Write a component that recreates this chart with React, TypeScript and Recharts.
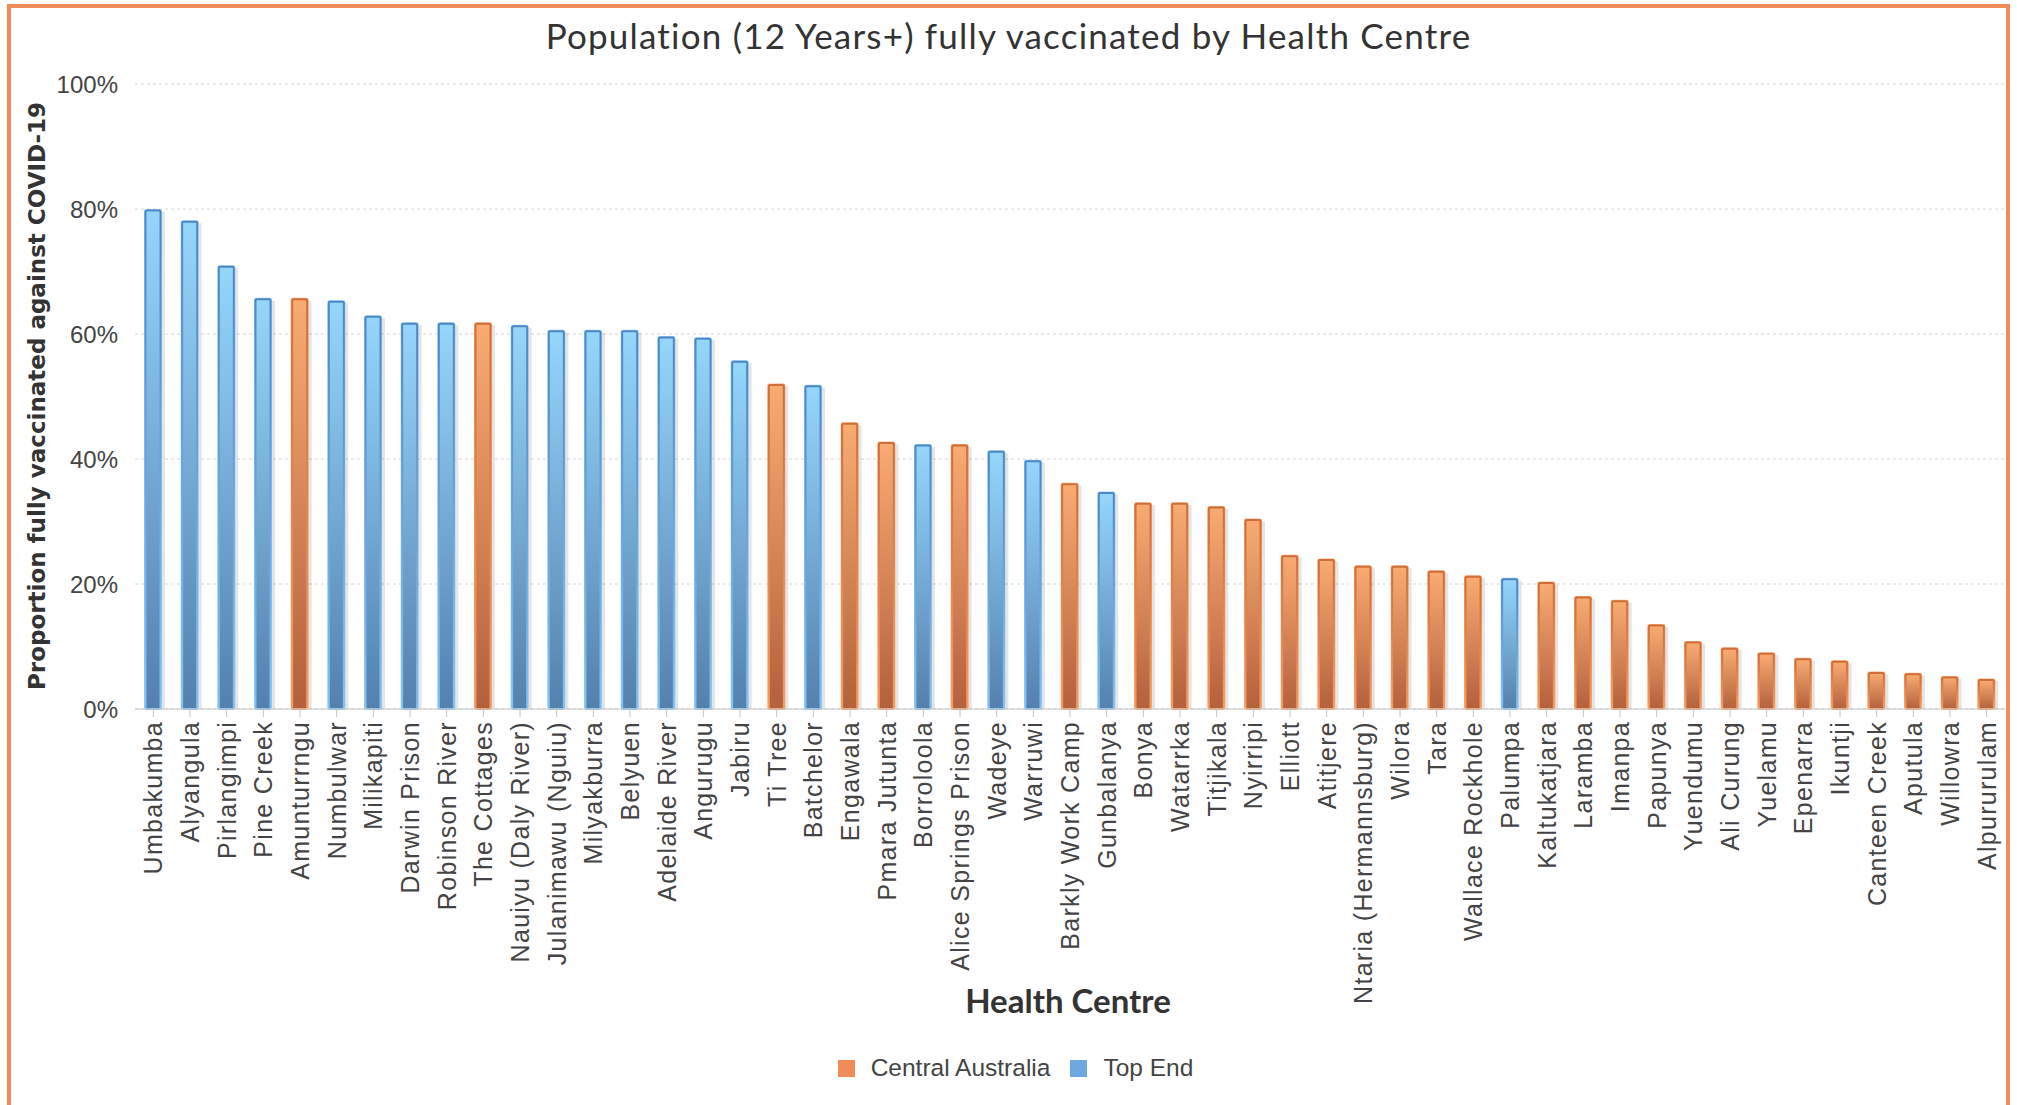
import React from 'react';
import { BarChart, Bar, XAxis, YAxis, CartesianGrid, Legend, Label } from 'recharts';

// health centres, sorted by coverage (as in the source chart)
const centres = [
  'Umbakumba', 'Alyangula', 'Pirlangimpi', 'Pine Creek', 'Amunturrngu', 'Numbulwar', 'Milikapiti',
  'Darwin Prison', 'Robinson River', 'The Cottages', 'Nauiyu (Daly River)', 'Julanimawu (Nguiu)',
  'Milyakburra', 'Belyuen', 'Adelaide River', 'Angurugu', 'Jabiru', 'Ti Tree', 'Batchelor', 'Engawala',
  'Pmara Jutunta', 'Borroloola', 'Alice Springs Prison', 'Wadeye', 'Warruwi', 'Barkly Work Camp',
  'Gunbalanya', 'Bonya', 'Watarrka', 'Titjikala', 'Nyirripi', 'Elliott', 'Atitjere',
  'Ntaria (Hermannsburg)', 'Wilora', 'Tara', 'Wallace Rockhole', 'Palumpa', 'Kaltukatjara', 'Laramba',
  'Imanpa', 'Papunya', 'Yuendumu', 'Ali Curung', 'Yuelamu', 'Epenarra', 'Ikuntji', 'Canteen Creek',
  'Aputula', 'Willowra', 'Alpururulam',
];

// % of population 12+ fully vaccinated
const coverage = [
  80.0, 78.2, 71.0, 65.8, 65.8, 65.4, 63.0, 61.9, 61.9, 61.9, 61.5, 60.7, 60.7, 60.7, 59.7, 59.5, 55.8,
  52.1, 51.9, 45.9, 42.8, 42.4, 42.4, 41.4, 39.9, 36.2, 34.8, 33.1, 33.1, 32.5, 30.5, 24.7, 24.1, 23.0,
  23.0, 22.2, 21.4, 21.0, 20.4, 18.1, 17.5, 13.6, 10.9, 9.9, 9.1, 8.2, 7.8, 6.0, 5.8, 5.3, 4.9,
];

// C = Central Australia, T = Top End
const regionCodes = [
  'T', 'T', 'T', 'T', 'C', 'T', 'T', 'T', 'T', 'C', 'T', 'T', 'T', 'T', 'T', 'T', 'T', 'C', 'T', 'C',
  'C', 'T', 'C', 'T', 'T', 'C', 'T', 'C', 'C', 'C', 'C', 'C', 'C', 'C', 'C', 'C', 'C', 'T', 'C', 'C',
  'C', 'C', 'C', 'C', 'C', 'C', 'C', 'C', 'C', 'C', 'C',
];

const yTicks = [0, 20, 40, 60, 80, 100];

const legendItems = [
  { label: 'Central Australia', color: '#ef8c5a' },
  { label: 'Top End', color: '#6fa8e0' },
];

const data = centres.map((name, i) => ({ name, value: coverage[i], region: regionCodes[i] }));

const TICK_FONT = '"Liberation Sans", Arial, sans-serif';

// bar with gradient fill, inverse gradient border and a soft shadow
const BarShape = (props: any) => {
  const { x, y, width, height, payload } = props;
  if (!height || height <= 0) return null;
  const c = payload.region === 'C';
  const fill = c ? 'url(#fillOrange)' : 'url(#fillBlue)';
  const stroke = c ? 'url(#strokeOrange)' : 'url(#strokeBlue)';
  return (
    <g>
      <rect x={x + 3} y={y + 3} width={width} height={height - 3} fill="#000" opacity={0.1} />
      <rect x={x} y={y} width={width} height={height} rx={2} fill={c ? '#f7a66f' : '#8ccdf6'} opacity={0.9} />
      <rect x={x + 1.5} y={y + 1.5} width={width - 3} height={height - 1.5} rx={1.5} fill={fill} stroke={stroke} strokeWidth={2} />
    </g>
  );
};

const XTick = ({ x, y, payload }: any) => (
  <g transform={`translate(${x},${y})`}>
    <text
      transform="rotate(-90)"
      x={0}
      y={0}
      dy="0.36em"
      textAnchor="end"
      fill="#444"
      fontSize={25}
      letterSpacing={1.3}
      fontFamily={TICK_FONT}
    >
      {payload.value}
    </text>
  </g>
);

const renderLegend = () => (
  <div style={{ display: 'flex', justifyContent: 'center', alignItems: 'center', height: 30, paddingLeft: 26 }}>
    {legendItems.map((it, i) => (
      <div key={it.label} style={{ display: 'flex', alignItems: 'center', marginRight: i === 0 ? 20 : 0 }}>
        <span style={{ width: 17, height: 17, background: it.color, display: 'inline-block', marginRight: 16 }} />
        <span style={{ fontFamily: TICK_FONT, fontSize: 24.5, color: '#444' }}>{it.label}</span>
      </div>
    ))}
  </div>
);

export default function App() {
  return (
    <div style={{ position: 'absolute', left: 0, top: 0, width: 2017, height: 1105, background: '#fff', overflow: 'hidden' }}>
      <div
        style={{
          position: 'absolute', left: 7, top: 4, width: 2003, height: 1120,
          border: '4px solid #ef8c5a', boxSizing: 'border-box',
        }}
      />
      <div
        style={{
          position: 'absolute', left: 0, top: 16, width: 2017, textAlign: 'center',
          fontFamily: 'Lato, sans-serif', fontSize: 35, letterSpacing: 1.2, color: '#333', lineHeight: '38px', zIndex: 2,
        }}
      >
        Population (12 Years+) fully vaccinated by Health Centre
      </div>
      <BarChart
        width={2017}
        height={1105}
        data={data}
        margin={{ top: 84, right: 12, left: 0, bottom: 22 }}
        barCategoryGap={0}
      >
        <defs>
          <linearGradient id="fillBlue" x1="0" y1="0" x2="0" y2="1">
            <stop offset="0%" stopColor="#95d6fb" />
            <stop offset="100%" stopColor="#5480ae" />
          </linearGradient>
          <linearGradient id="strokeBlue" x1="0" y1="0" x2="0" y2="1">
            <stop offset="0%" stopColor="#4f86c4" />
            <stop offset="100%" stopColor="#82c2f2" />
          </linearGradient>
          <linearGradient id="fillOrange" x1="0" y1="0" x2="0" y2="1">
            <stop offset="0%" stopColor="#f9ab73" />
            <stop offset="100%" stopColor="#b4603c" />
          </linearGradient>
          <linearGradient id="strokeOrange" x1="0" y1="0" x2="0" y2="1">
            <stop offset="0%" stopColor="#cf6e38" />
            <stop offset="100%" stopColor="#f59b60" />
          </linearGradient>
        </defs>
        <CartesianGrid vertical={false} stroke="#d6d6d6" strokeDasharray="3 3" />
        <XAxis
          dataKey="name"
          interval={0}
          height={344}
          tick={<XTick />}
          tickSize={8}
          tickMargin={4}
          axisLine={{ stroke: '#c4c4c4' }}
          tickLine={{ stroke: '#c4c4c4' }}
        >
          <Label
            content={() => (
              <text x={1068} y={1000} textAnchor="middle" dominantBaseline="central" fontFamily="Lato, sans-serif" fontWeight={700} fontSize={33} fill="#333">
                Health Centre
              </text>
            )}
          />
        </XAxis>
        <YAxis
          width={135}
          domain={[0, 100]}
          ticks={yTicks}
          tickFormatter={(v: number) => `${v}%`}
          axisLine={false}
          tickLine={false}
          tickSize={6}
          tickMargin={11}
          tick={{ fill: '#444', fontSize: 24, fontFamily: TICK_FONT }}
        >
          <Label
            content={() => (
              <text x={37} y={396} transform="rotate(-90 37 396)" textAnchor="middle" dominantBaseline="central" fontFamily='"DejaVu Sans", sans-serif' fontWeight={700} fontSize={23} fill="#333">
                Proportion fully vaccinated against COVID-19
              </text>
            )}
          />
        </YAxis>
        <Legend verticalAlign="bottom" height={30} content={renderLegend} />
        <Bar dataKey="value" barSize={18} shape={<BarShape />} isAnimationActive={false} />
      </BarChart>
    </div>
  );
}
